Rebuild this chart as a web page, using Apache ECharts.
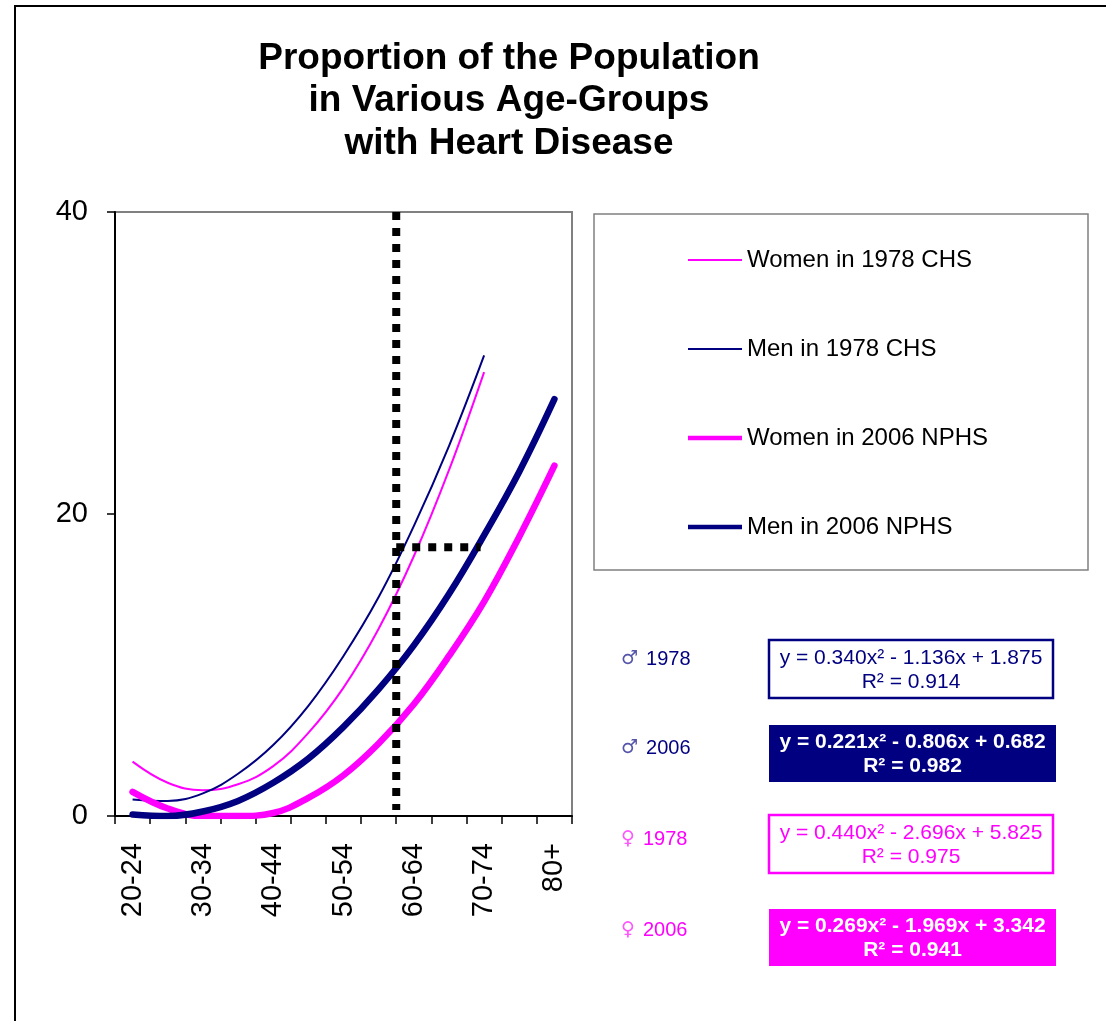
<!DOCTYPE html>
<html><head><meta charset="utf-8">
<script src="https://cdn.jsdelivr.net/npm/echarts@6/dist/echarts.min.js"></script>
<style>html,body{margin:0;padding:0;background:#fff}#c{width:1106px;height:1021px}</style>
</head><body><div id="c"></div>
<script>
const categories = ['20-24','25-29','30-34','35-39','40-44','45-49','50-54','55-59','60-64','65-69','70-74','75-79','80+'];
const women1978 = [3.6, 2.2, 1.7, 2.1, 3.3, 5.5, 8.5, 12.4, 17.2, 22.9, 29.4];
const men1978   = [1.1, 1.0, 1.5, 2.8, 4.7, 7.3, 10.6, 14.5, 19.2, 24.5, 30.5];
const women2006 = [1.6, 0.5, 0, 0, 0.2, 1.2, 2.7, 4.8, 7.4, 10.6, 14.2, 18.5, 23.2];
const men2006   = [0.1, 0, 0.3, 1.0, 2.2, 3.8, 5.9, 8.4, 11.3, 14.7, 18.6, 22.8, 27.6];
const guideVertical = [[8.5, 40], [8.5, 0.4]];
const guideHorizontal = [[8.5, 17.8], [10.9, 17.8]];
const yMin = 0, yMax = 40, yStep = 20;
const seriesNames = ['Women in 1978 CHS', 'Men in 1978 CHS', 'Women in 2006 NPHS', 'Men in 2006 NPHS'];
const eqSymbols = ['\u2642', '\u2642', '\u2640', '\u2640'];
const eqYears = ['1978', '2006', '1978', '2006'];
const eqTexts = [
  'y = 0.340x\u00b2 - 1.136x + 1.875\nR\u00b2 = 0.914',
  'y = 0.221x\u00b2 - 0.806x + 0.682\nR\u00b2 = 0.982',
  'y = 0.440x\u00b2 - 2.696x + 5.825\nR\u00b2 = 0.975',
  'y = 0.269x\u00b2 - 1.969x + 3.342\nR\u00b2 = 0.941'
];
const titleText = 'Proportion of the Population\nin Various Age-Groups\nwith Heart Disease';

const NAVY = '#000080', MAG = '#FF00FF';
const FONT = 'Arial, "Liberation Sans", sans-serif';

const boxes = [
  {x: 769, y: 640, w: 284, h: 58, fill: '#fff', stroke: NAVY, text: NAVY, bold: false, labelColor: NAVY, symColor: '#5555aa', ly: 659},
  {x: 769, y: 725, w: 287, h: 57, fill: NAVY, stroke: null, text: '#fff', bold: true, labelColor: NAVY, symColor: '#5555aa', ly: 748},
  {x: 769, y: 815, w: 284, h: 58, fill: '#fff', stroke: MAG, text: MAG, bold: false, labelColor: MAG, symColor: '#ff55ff', ly: 839},
  {x: 769, y: 909, w: 287, h: 57, fill: MAG, stroke: null, text: '#fff', bold: true, labelColor: MAG, symColor: '#ff55ff', ly: 930}
];

const graphics = [
  {type: 'rect', shape: {x: 15, y: 6, width: 1200, height: 1100}, style: {fill: 'none', stroke: '#000', lineWidth: 2}, silent: true},
  {type: 'rect', shape: {x: 594, y: 214, width: 494, height: 356}, style: {fill: 'none', stroke: '#808080', lineWidth: 1.5}, silent: true, z: 0},
  {type: 'text', x: 509, y: 101, style: {text: titleText, font: 'bold 37px ' + FONT, fill: '#000', align: 'center', verticalAlign: 'middle', lineHeight: 42.5}}
];
boxes.forEach((b, i) => {
  graphics.push({type: 'rect', shape: {x: b.x, y: b.y, width: b.w, height: b.h},
    style: {fill: b.fill, stroke: b.stroke || 'none', lineWidth: b.stroke ? 2.5 : 0}});
  graphics.push({type: 'text', x: b.x + b.w / 2, y: b.y + b.h / 2 + 1,
    style: {text: eqTexts[i], font: (b.bold ? 'bold ' : '') + '21px ' + FONT, fill: b.text, align: 'center', verticalAlign: 'middle', lineHeight: 24}});
  graphics.push({type: 'text', x: 621, y: b.ly,
    style: {text: '{s|' + eqSymbols[i] + '}{t|' + eqYears[i] + '}', align: 'left', verticalAlign: 'middle',
      rich: {
        s: {fontSize: 19, fontFamily: '"DejaVu Sans", sans-serif', fill: b.symColor, color: b.symColor, padding: [0, 8, 0, 0]},
        t: {fontSize: 20, fontFamily: FONT, fill: b.labelColor, color: b.labelColor}
      }}});
});

const chart = echarts.init(document.getElementById('c'), null, {renderer: 'canvas'});
chart.setOption({
  backgroundColor: '#fff',
  animation: false,
  grid: {left: 115, top: 212, width: 457, height: 604, show: true, borderColor: '#808080', borderWidth: 2, backgroundColor: 'transparent'},
  legend: {
    orient: 'vertical', left: 688, top: 248, padding: 0,
    itemWidth: 54, itemHeight: 14, itemGap: 65, symbolKeepAspect: true,
    textStyle: {fontSize: 24, fontFamily: FONT, color: '#000', lineHeight: 24},
    data: [
      {name: seriesNames[0], icon: 'path://M0,0H54V2H0Z'},
      {name: seriesNames[1], icon: 'path://M0,0H54V2H0Z'},
      {name: seriesNames[2], icon: 'path://M0,0H54V4.5H0Z'},
      {name: seriesNames[3], icon: 'path://M0,0H54V4.5H0Z'}
    ]
  },
  xAxis: [
    {
      type: 'category', data: categories, boundaryGap: true,
      axisLine: {lineStyle: {color: '#000', width: 2}},
      axisTick: {show: true, interval: 0, length: 8, lineStyle: {color: '#000', width: 1.5}},
      axisLabel: {interval: 1, rotate: 90, fontSize: 29, fontFamily: FONT, color: '#000', margin: 27},
      splitLine: {show: false}
    },
    {type: 'value', min: 0.5, max: 13.5, show: false}
  ],
  yAxis: {
    type: 'value', min: yMin, max: yMax, interval: yStep,
    axisLine: {show: true, lineStyle: {color: '#000', width: 2}},
    axisTick: {show: true, length: 8, lineStyle: {color: '#000', width: 1.5}},
    axisLabel: {fontSize: 29, fontFamily: FONT, color: '#000', margin: 27},
    splitLine: {show: false}
  },
  series: [
    {name: seriesNames[0], type: 'line', data: women1978, smooth: 0.4, symbol: 'none', lineStyle: {color: MAG, width: 2}, itemStyle: {color: MAG}},
    {name: seriesNames[1], type: 'line', data: men1978, smooth: 0.4, symbol: 'none', lineStyle: {color: NAVY, width: 2}, itemStyle: {color: NAVY}},
    {name: seriesNames[2], type: 'line', data: women2006, smooth: 0.4, symbol: 'none', lineStyle: {color: MAG, width: 6.5, cap: 'round'}, itemStyle: {color: MAG}},
    {name: seriesNames[3], type: 'line', data: men2006, smooth: 0.4, symbol: 'none', lineStyle: {color: NAVY, width: 6.5, cap: 'round'}, itemStyle: {color: NAVY}},
    {name: 'guideV', type: 'line', xAxisIndex: 1, data: guideVertical, symbol: 'none', silent: true,
      lineStyle: {color: '#000', width: 8, type: [8, 8], cap: 'butt'}},
    {name: 'guideH', type: 'line', xAxisIndex: 1, data: guideHorizontal, symbol: 'none', silent: true,
      lineStyle: {color: '#000', width: 8, type: [8, 8], cap: 'butt'}}
  ],
  graphic: graphics
});
</script>
</body></html>
